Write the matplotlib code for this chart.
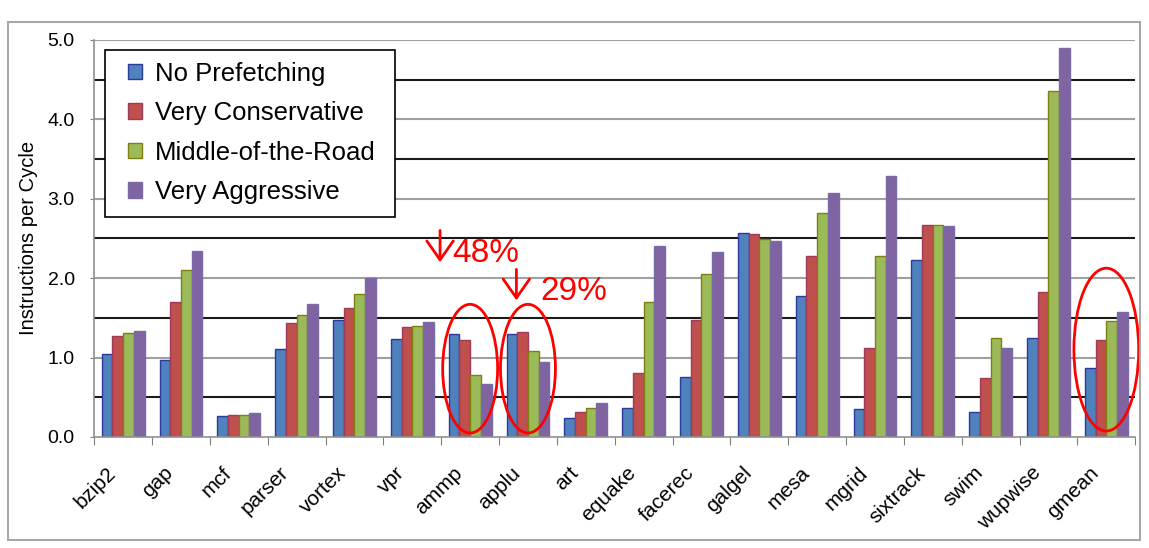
import matplotlib.pyplot as plt
import numpy as np
from matplotlib.patches import Ellipse, Rectangle

plt.rcParams['font.family'] = ['Liberation Sans', 'DejaVu Sans']

benchmarks = ['bzip2', 'gap', 'mcf', 'parser', 'vortex', 'vpr', 'ammp', 'applu', 'art',
              'equake', 'facerec', 'galgel', 'mesa', 'mgrid', 'sixtrack', 'swim', 'wupwise', 'gmean']
no_prefetch = [1.05, 0.97, 0.26, 1.11, 1.47, 1.23, 1.30, 1.30, 0.24,
               0.37, 0.76, 2.57, 1.78, 0.35, 2.23, 0.32, 1.25, 0.87]
very_conservative = [1.27, 1.70, 0.28, 1.43, 1.63, 1.38, 1.22, 1.32, 0.32,
                     0.80, 1.47, 2.55, 2.28, 1.12, 2.67, 0.74, 1.82, 1.22]
middle_of_road = [1.31, 2.10, 0.28, 1.54, 1.80, 1.40, 0.78, 1.08, 0.36,
                  1.70, 2.05, 2.49, 2.82, 2.28, 2.67, 1.24, 4.36, 1.46]
very_aggressive = [1.33, 2.34, 0.30, 1.67, 2.00, 1.45, 0.67, 0.94, 0.43,
                   2.40, 2.33, 2.47, 3.07, 3.28, 2.65, 1.12, 4.90, 1.57]
series_names = ['No Prefetching', 'Very Conservative', 'Middle-of-the-Road', 'Very Aggressive']

fills = ['#4F81BD', '#C0504D', '#9BBB59', '#8064A2']
edges = ['#2B3A9C', '#A03A5A', '#7F7F10', '#7A6AA8']

fig = plt.figure(figsize=(11.49, 5.48), dpi=100)
ax = fig.add_axes([0.082, 0.2026, 0.906, 0.7247])

# gridlines: gray at whole numbers, black at the halves
for y in np.arange(1.0, 5.01, 1.0):
    ax.axhline(y, color='#A0A0A0', lw=1.5, zorder=0)
for y in np.arange(0.5, 5.0, 1.0):
    ax.axhline(y, color='#1A1A1A', lw=1.5, zorder=0)

x = np.arange(len(benchmarks))
w = 0.185
series = [no_prefetch, very_conservative, middle_of_road, very_aggressive]
for i, (vals, name) in enumerate(zip(series, series_names)):
    ax.bar(x + (i - 1.5) * w, vals, w, color=fills[i], edgecolor=edges[i],
           linewidth=1.0, label=name, zorder=2)

ax.set_xlim(-0.5, len(benchmarks) - 0.5)
ax.set_ylim(0, 5.0)
ax.set_yticks(np.arange(0, 5.01, 1.0))
ax.set_yticklabels([f'{v:.1f}' for v in np.arange(0, 5.01, 1.0)], fontsize=14)
ax.tick_params(axis='y', length=3, color='#808080', pad=11)

# category boundary ticks below the axis
ax.set_xticks(np.arange(-0.5, len(benchmarks)))
ax.set_xticklabels([])
ax.tick_params(axis='x', length=6, color='#808080')
for xi, name in zip(x, benchmarks):
    ax.text(xi - 0.3, -0.33, name, rotation=45, ha='right', va='top',
            fontsize=15, rotation_mode='anchor')

for s in ['top', 'right']:
    ax.spines[s].set_visible(False)
for s in ['left', 'bottom']:
    ax.spines[s].set_color('#909090')
    ax.spines[s].set_linewidth(1.2)

ax.set_ylabel('Instructions per Cycle', fontsize=14.5, labelpad=7)

# legend without its own frame; the box is drawn below with wider side margins
leg = ax.legend(loc='upper left', bbox_to_anchor=(0.0327, 0.945), borderaxespad=0,
                fontsize=18.5, frameon=False, borderpad=0,
                handlelength=0.55, handleheight=0.55, handletextpad=0.5,
                labelspacing=0.6)
fig.canvas.draw()
bb = leg.get_window_extent()
W, H = fig.bbox.width, fig.bbox.height
x0, y0 = bb.x0 - 23, bb.y0 - 13
x1, y1 = bb.x1 + 19, bb.y1 + 12
ax.add_artist(Rectangle((x0 / W, y0 / H), (x1 - x0) / W, (y1 - y0) / H,
                        transform=fig.transFigure, fill=True, facecolor='white',
                        edgecolor='black', lw=1.2, zorder=4))
leg.set_zorder(5)

# highlights
for cx, cy, ew, eh in [(6, 0.86, 0.95, 1.62), (7, 0.86, 0.95, 1.62), (17, 1.10, 1.12, 2.05)]:
    ax.add_patch(Ellipse((cx, cy), ew, eh, fill=False, edgecolor='red', lw=2,
                         zorder=5, clip_on=False))
arrow_style = dict(arrowstyle='->,head_length=0.4,head_width=0.28', color='red', lw=2,
                   mutation_scale=34, shrinkA=0, shrinkB=0)
ax.annotate('', xy=(5.48, 2.20), xytext=(5.48, 2.60), arrowprops=arrow_style, zorder=6)
ax.text(5.69, 2.20, '48%', color='red', fontsize=24, va='baseline', ha='left', zorder=6)
ax.annotate('', xy=(6.80, 1.72), xytext=(6.80, 2.11), arrowprops=arrow_style, zorder=6)
ax.text(7.21, 1.73, '29%', color='red', fontsize=24, va='baseline', ha='left', zorder=6)

# outer chart border
fig.patches.append(Rectangle((0.007, 0.015), 0.985, 0.945, transform=fig.transFigure,
                             fill=False, edgecolor='#A8A8A8', lw=1.5))

fig.savefig('out.png', dpi=100)
